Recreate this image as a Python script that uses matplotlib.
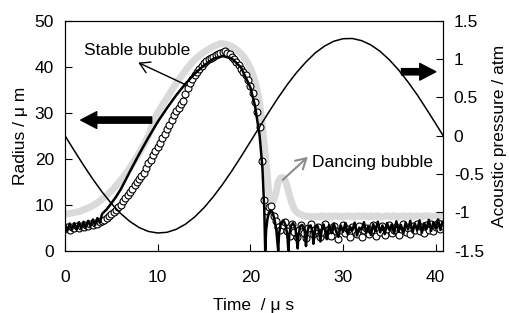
import numpy as np
import matplotlib
matplotlib.use("Agg")
import matplotlib.pyplot as plt

plt.rcParams['font.family'] = ['Liberation Sans', 'DejaVu Sans']
FS = 12.5
plt.rcParams['font.size'] = FS

# ---------------- data ----------------
# acoustic pressure (atm), sampled every 1 us
t_press = [0, 1, 2, 3, 4, 5, 6, 7, 8, 9, 10, 11, 12, 13, 14, 15, 16, 17, 18, 19, 20,
           21, 22, 23, 24, 25, 26, 27, 28, 29, 30, 31, 32, 33, 34, 35, 36, 37, 38, 39, 40, 40.8]
pressure = [0.0, -0.195, -0.385, -0.566, -0.734, -0.884, -1.014, -1.119, -1.198, -1.249, -1.269,
            -1.260, -1.221, -1.154, -1.059, -0.939, -0.796, -0.635, -0.459, -0.272, -0.078,
            0.117, 0.310, 0.496, 0.670, 0.826, 0.962, 1.080, 1.169, 1.232, 1.265, 1.268,
            1.240, 1.184, 1.100, 0.989, 0.856, 0.702, 0.533, 0.347, 0.156, 0.0]

# stable bubble, solid line (um)
t_line = [0, 0.25, 0.5, 0.75, 1, 1.25, 1.5, 1.75, 2, 2.25, 2.5, 2.75, 3, 3.25, 3.5, 3.75,
          4, 4.5, 5, 5.5, 6, 6.5, 7, 8, 9, 10, 11, 12, 13, 14, 15, 16, 17, 18, 19,
          20, 20.5, 21, 21.3, 21.5, 21.6,
          21.7, 21.85, 22.0, 22.2, 22.4, 22.6, 22.8, 23.0,
          23.1, 23.3, 23.55, 23.8, 24.0, 24.1,
          24.2, 24.4, 24.6, 24.85, 25.1,
          25.2, 25.4, 25.6, 25.85, 26.0,
          26.1, 26.3, 26.5, 26.7, 26.8,
          27.0, 27.2, 27.4, 27.55, 27.7, 27.9, 28.1, 28.25,
          28.5, 28.75, 29, 29.25, 29.5, 29.75, 30, 30.25, 30.5, 30.75, 31, 31.25, 31.5, 31.75,
          32, 32.25, 32.5, 32.75, 33, 33.25, 33.5, 33.75, 34, 34.25, 34.5, 34.75, 35, 35.25,
          35.5, 35.75, 36, 36.25, 36.5, 36.75, 37, 37.25, 37.5, 37.75, 38, 38.25, 38.5, 38.75,
          39, 39.25, 39.5, 39.75, 40, 40.25, 40.5, 40.75]
r_line = [5.8, 4.3, 5.9, 4.5, 6.0, 4.6, 6.2, 4.8, 6.3, 5.0, 6.5, 5.3, 6.8, 5.6, 7.1, 6.1,
          8.0, 9.0, 10.3, 11.7, 13.3, 15.2, 17.2, 21.0, 24.6, 28.0, 31.0, 33.8, 36.3, 38.5,
          40.3, 41.7, 42.3, 41.8, 39.8,
          35.5, 31.5, 25.0, 18.0, 9.0, 0.0,
          4.5, 7.0, 8.3, 8.8, 8.3, 6.8, 4.5, 0.0,
          3.8, 6.0, 6.6, 5.6, 3.2, 0.0,
          3.5, 5.5, 6.0, 5.0, 0.5,
          3.5, 5.4, 5.6, 4.5, 1.0,
          3.6, 5.3, 5.5, 4.2, 1.5,
          4.8, 5.6, 4.4, 2.0, 4.6, 5.7, 4.0, 2.5,
          5.6, 3.8, 5.9, 4.2, 3.0, 5.5, 4.1, 6.0, 3.6, 5.2, 4.4, 6.1, 3.3, 5.0,
          4.6, 6.2, 3.9, 5.4, 3.4, 5.8, 4.3, 6.3, 4.0, 5.5, 3.6, 6.0, 4.5, 5.7,
          3.8, 6.4, 4.2, 5.6, 3.7, 6.1, 4.6, 6.5, 4.0, 5.9, 4.4, 6.6, 3.9, 6.0,
          4.7, 6.7, 4.3, 6.2, 4.8, 6.8, 4.5, 6.3]

# stable bubble, open circles (um), one value every 0.25 us from t = 0
r_circles = [4.8, 5.2, 4.6, 5.1, 5.0, 5.4, 4.9, 5.3, 5.2, 5.6, 5.3, 5.7, 5.6, 6.0, 5.8, 6.2,
             6.4, 6.7, 7.1, 7.5, 7.9, 8.4, 8.9, 9.4, 10.0, 10.7, 11.4, 12.1,
             12.8, 13.5, 14.2, 14.9, 15.6, 16.3, 17.0, 18.0, 19.0, 19.8, 20.7, 21.6,
             22.5, 23.4, 24.4, 25.4, 26.4, 27.4, 28.4, 29.4, 30.3, 31.0, 31.8, 32.6,
             34.0, 35.3, 36.5, 37.4, 38.2, 38.9, 39.6, 40.2, 40.7, 41.2, 41.6, 41.9,
             42.2, 42.5, 42.7, 42.9, 43.2, 43.5, 43.0, 42.7, 42.2, 41.6, 41.0, 40.3,
             39.6, 38.9, 38.1, 37.0, 35.8, 34.2, 32.4, 30.2, 26.8, 19.5, 11.0, 8.6,
             9.4, 9.8, 7.6, 6.4, 5.2, 4.4, 5.6, 6.2, 4.2, 3.2,
             5.8, 4.0, 3.0, 4.6, 5.5, 3.8, 2.8, 4.9, 5.9, 3.6, 4.4, 5.2, 2.9, 4.1,
             5.7, 3.5, 4.8, 3.1, 5.3, 4.2, 2.6, 4.5, 5.6, 3.9, 4.7, 3.0, 5.1, 4.3,
             3.6, 5.4, 2.9, 4.6, 5.0, 3.7, 4.4, 5.6, 3.3, 4.9, 4.1, 5.3, 3.5, 4.7,
             5.5, 3.9, 4.6, 5.2, 3.4, 4.8, 5.7, 4.0, 5.0, 3.7, 5.4, 4.5, 5.9, 4.2,
             5.1, 3.8, 5.5, 4.6, 5.8, 4.3, 5.2, 6.0, 4.7, 5.4]

# dancing bubble, grey band (um), one value every 0.25 us from t = 0
r_dancing = [8.0, 8.0, 8.1, 8.2, 8.3, 8.4, 8.5, 8.7, 8.9, 9.1, 9.3, 9.5, 9.8, 10.1, 10.4, 10.8,
             11.2, 11.6, 12.0, 12.5, 13.0, 13.5, 14.1, 14.7, 15.3, 15.9, 16.6, 17.3,
             18.0, 18.8, 19.6, 20.4, 21.2, 22.1, 23.0, 24.0, 25.0, 26.4, 27.6, 28.9,
             30.0, 30.8, 31.6, 32.4, 33.2, 34.0, 34.8, 35.6, 36.4, 37.1, 37.8, 38.5,
             39.2, 39.8, 40.4, 41.0, 41.5, 42.0, 42.4, 42.8, 43.2, 43.5, 43.8, 44.1,
             44.4, 44.6, 44.8, 45.0, 45.0, 44.9, 44.8, 44.6, 44.4, 44.1, 43.7, 43.3,
             42.8, 42.2, 41.5, 40.7, 39.7, 38.4, 36.8, 34.8, 32.0, 28.0, 23.0, 18.0,
             12.5, 10.6, 10.8, 12.5, 15.0, 15.8, 15.9, 15.3, 13.8, 11.8, 10.2, 9.0,
             8.4, 8.0, 7.8, 7.6, 7.5, 7.5, 7.4, 7.4,
             7.4, 7.5, 7.3, 7.6, 7.5, 7.4, 7.6, 7.3, 7.5, 7.6, 7.4, 7.5, 7.3, 7.5, 7.6, 7.4,
             7.5, 7.3, 7.6, 7.5, 7.4, 7.6, 7.5, 7.3, 7.6, 7.4, 7.5, 7.6, 7.4, 7.3, 7.5, 7.6,
             7.5, 7.4, 7.6, 7.5, 7.3, 7.5, 7.6, 7.4, 7.5, 7.6, 7.4, 7.5, 7.6, 7.5, 7.4, 7.6,
             7.5, 7.6, 7.4, 7.5, 7.6, 7.5, 7.7, 7.6]

dt_sample = 0.25
t_circles = np.arange(len(r_circles)) * dt_sample
t_dancing = np.arange(len(r_dancing)) * dt_sample

x_ticks = [0, 10, 20, 30, 40]
r_ticks = [0, 10, 20, 30, 40, 50]
p_ticks = [-1.5, -1, -0.5, 0, 0.5, 1, 1.5]
p_ticklabels = ['-1.5', '-1', '-0.5', '0', '0.5', '1', '1.5']

# ---------------- figure ----------------
fig = plt.figure(figsize=(5.09, 3.13), dpi=100)
ax = fig.add_axes([65 / 509, 1 - 250.7 / 313, (442.7 - 65) / 509, (250.7 - 20.7) / 313])

ax.plot(t_dancing, r_dancing, color='#dadada', lw=5.0, solid_capstyle='round', zorder=1)
ax.plot(t_circles, r_circles, ls='none', marker='o', ms=5.0, mfc='white', mec='black',
        mew=0.8, zorder=2)
ax.plot(t_line, r_line, color='black', lw=1.8, zorder=3)

ax.set_xlim(0, 40.75)
ax.set_ylim(0, 50)
ax.set_xticks(x_ticks)
ax.set_yticks(r_ticks)
ax.tick_params(direction='in', length=5, width=0.8, labelsize=FS, colors='black')
ax.tick_params(axis='x', pad=14)
ax.tick_params(axis='y', pad=8)
ax.set_xlabel('Time  / μ s', fontsize=FS, labelpad=9)
ax.set_ylabel('Radius / μ m', fontsize=FS, labelpad=5)
for s in ax.spines.values():
    s.set_linewidth(0.8)

ax2 = ax.twinx()
ax2.plot(t_press, pressure, color='black', lw=1.1)
ax2.set_ylim(-1.5, 1.5)
ax2.set_yticks(p_ticks)
ax2.set_yticklabels(p_ticklabels)
ax2.tick_params(direction='in', length=5, width=0.8, labelsize=FS, pad=8)
ax2.set_ylabel('Acoustic pressure / atm', fontsize=FS, labelpad=6)

# annotations
big = dict(arrowstyle='simple,head_length=1.15,head_width=1.2,tail_width=0.45',
           color='black', shrinkA=0, shrinkB=0, mutation_scale=10)
ax2.annotate('', xy=(1.7, 28.4), xytext=(9.35, 28.4), xycoords=ax.transData,
             textcoords=ax.transData, arrowprops=big)
ax2.annotate('', xy=(40.0, 38.9), xytext=(36.3, 38.9), xycoords=ax.transData,
             textcoords=ax.transData, arrowprops=big)

ax2.annotate('Stable bubble', xy=(7.8, 43.6), xycoords=ax.transData,
             ha='center', va='center', fontsize=FS)
ax2.annotate('', xy=(7.9, 40.9), xytext=(13.1, 36.0), xycoords=ax.transData,
             textcoords=ax.transData,
             arrowprops=dict(arrowstyle='->,head_length=0.6,head_width=0.35', color='black',
                             lw=1.0, shrinkA=0, shrinkB=0, mutation_scale=12))
ax2.annotate('Dancing bubble', xy=(26.6, 19.1), xycoords=ax.transData,
             ha='left', va='center', fontsize=FS)
ax2.annotate('', xy=(26.2, 20.4), xytext=(23.5, 15.4), xycoords=ax.transData,
             textcoords=ax.transData,
             arrowprops=dict(arrowstyle='->,head_length=0.6,head_width=0.35', color='#8c8c8c',
                             lw=1.5, shrinkA=0, shrinkB=0, mutation_scale=12))

fig.savefig('out.png', dpi=100)
